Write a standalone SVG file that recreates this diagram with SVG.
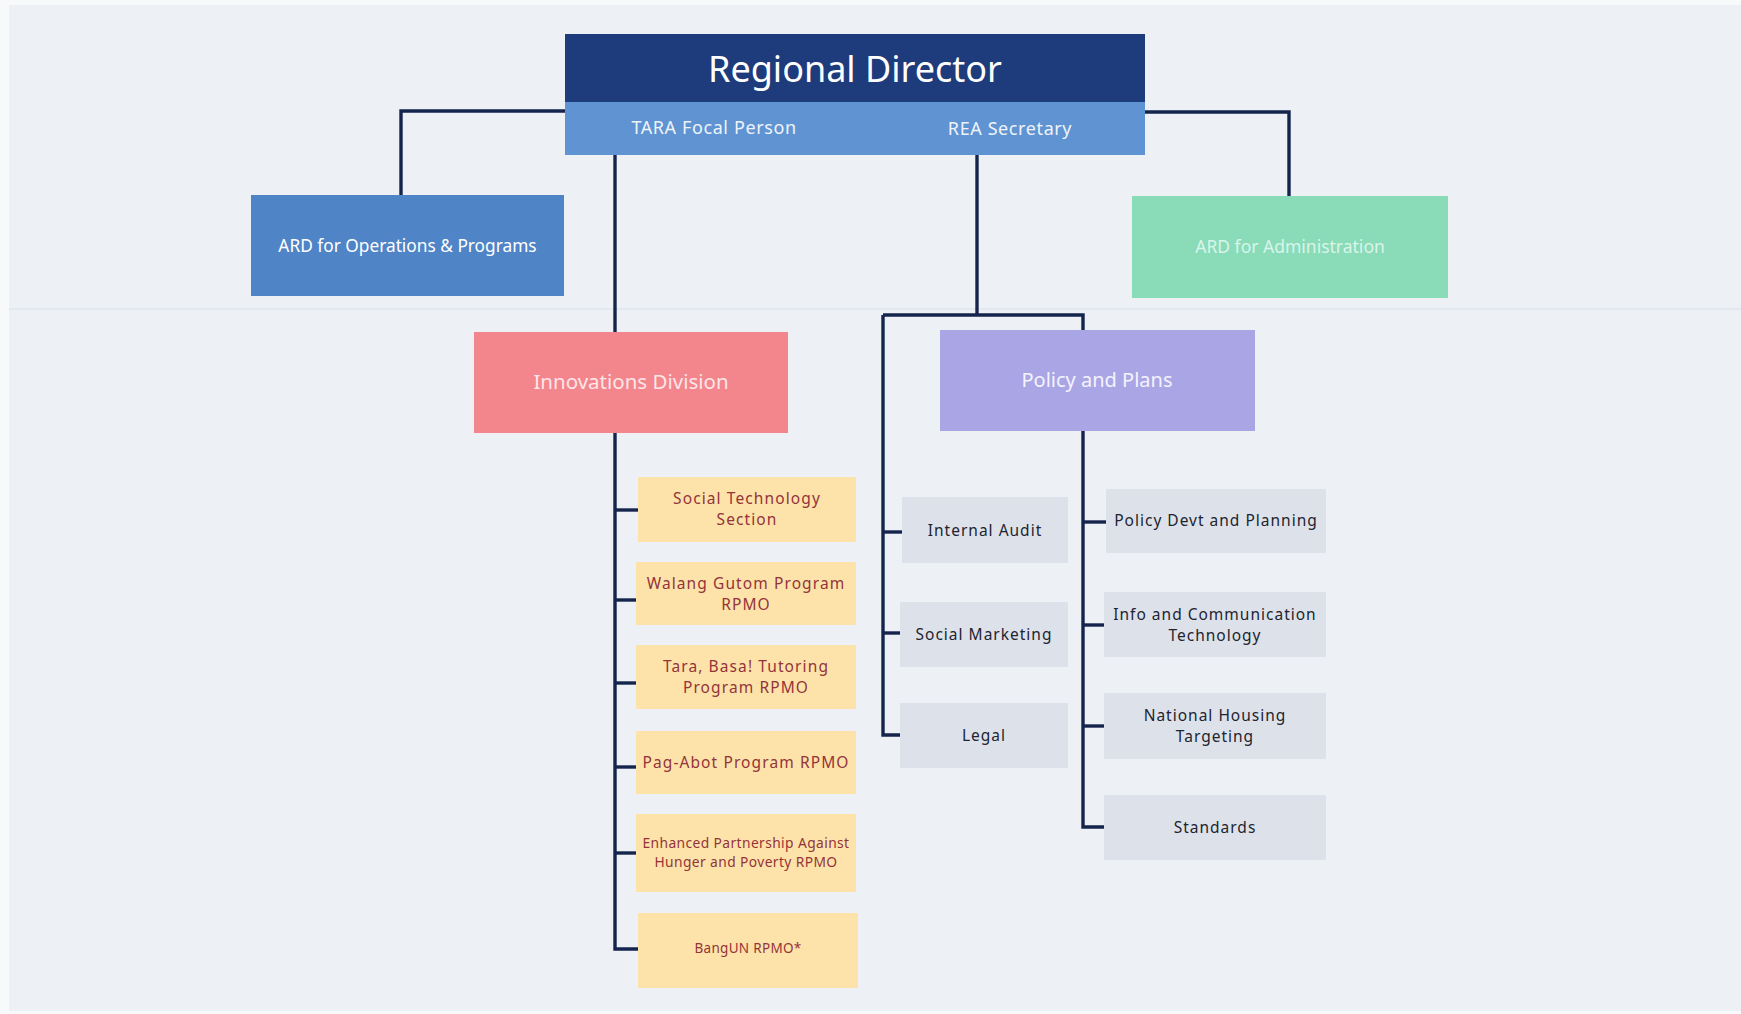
<svg xmlns="http://www.w3.org/2000/svg" width="1741" height="1014" viewBox="0 0 1741 1014">
  <style>
    .lbl { font-family: "Noto Sans", "Open Sans", "Liberation Sans", sans-serif; text-anchor: middle; dominant-baseline: central; }
    .wire { fill: none; stroke: #15244c; stroke-width: 3.4; stroke-linejoin: miter; stroke-linecap: butt; }
    .yel { fill: #fde3a9; }
    .yel-t { fill: #93343a; font-size: 15.5px; letter-spacing: 1.1px; }
    .yel-s { fill: #93343a; font-size: 13.8px; letter-spacing: 0.4px; }
    .gry { fill: #dde2ea; }
    .gry-t { fill: #1e2430; font-size: 15.5px; letter-spacing: 1px; }
    .head-t { fill: #ffffff; font-size: 17.3px; }
  </style>

  <!-- paper -->
  <rect x="0" y="0" width="1741" height="1014" fill="#f7f9fb"/>
  <rect x="9" y="5" width="1732" height="1006" fill="#edf1f6"/>
  <line x1="9" y1="309" x2="1741" y2="309" stroke="#dfe4ec" stroke-width="1.5"/>

  <!-- connectors -->
  <g id="connectors" class="wire">
    <path d="M565 111 H401 V195"/>
    <path d="M1145 112 H1289 V196"/>
    <path d="M615 155 V332"/>
    <path d="M977 155 V315"/>
    <path d="M883 315 H1083 V330"/>
    <path d="M883 315 V735 H900"/>
    <path d="M883 532 H902"/>
    <path d="M883 633 H900"/>
    <path d="M615 433 V949 H638"/>
    <path d="M615 510 H638"/>
    <path d="M615 600 H636"/>
    <path d="M615 683 H636"/>
    <path d="M615 767 H636"/>
    <path d="M615 853 H636"/>
    <path d="M1083 431 V827 H1104"/>
    <path d="M1083 522 H1106"/>
    <path d="M1083 625 H1104"/>
    <path d="M1083 726 H1104"/>
  </g>

  <!-- top: Regional Director with its two staff posts -->
  <g id="regional-director">
    <rect x="565" y="34" width="580" height="68" fill="#1e3b7c"/>
    <rect x="565" y="102" width="580" height="53" fill="#6093d1"/>
    <text class="lbl" x="855" y="68" fill="#ffffff" font-size="36">Regional Director</text>
    <text class="lbl" x="714" y="127" fill="#eef3fb" font-size="18" letter-spacing="0.6">TARA Focal Person</text>
    <text class="lbl" x="1010" y="128" fill="#eef3fb" font-size="18" letter-spacing="0.6">REA Secretary</text>
  </g>

  <g id="ard-operations">
    <rect x="251" y="195" width="313" height="101" fill="#4f84c7"/>
    <text class="lbl head-t" x="407.5" y="245">ARD for Operations &amp; Programs</text>
  </g>

  <g id="ard-administration">
    <rect x="1132" y="196" width="316" height="102" fill="#8adcb9"/>
    <text class="lbl" x="1290" y="246" fill="#d9f4ea" font-size="17.5">ARD for Administration</text>
  </g>

  <g id="innovations-division">
    <rect x="474" y="332" width="314" height="101" fill="#f3858d"/>
    <text class="lbl" x="631" y="381" fill="#fde6e8" font-size="20.5">Innovations Division</text>
  </g>

  <g id="policy-and-plans">
    <rect x="940" y="330" width="315" height="101" fill="#aaa5e5"/>
    <text class="lbl" x="1097" y="379" fill="#f4f3fd" font-size="20">Policy and Plans</text>
  </g>

  <!-- Innovations Division units -->
  <g id="social-technology-section">
    <rect class="yel" x="638" y="477" width="218" height="65"/>
    <text class="lbl yel-t" x="747" y="498">Social Technology</text>
    <text class="lbl yel-t" x="747" y="519">Section</text>
  </g>
  <g id="walang-gutom">
    <rect class="yel" x="636" y="562" width="220" height="63"/>
    <text class="lbl yel-t" x="746" y="583">Walang Gutom Program</text>
    <text class="lbl yel-t" x="746" y="604">RPMO</text>
  </g>
  <g id="tara-basa">
    <rect class="yel" x="636" y="645" width="220" height="64"/>
    <text class="lbl yel-t" x="746" y="666">Tara, Basa! Tutoring</text>
    <text class="lbl yel-t" x="746" y="687">Program RPMO</text>
  </g>
  <g id="pag-abot">
    <rect class="yel" x="636" y="731" width="220" height="63"/>
    <text class="lbl yel-t" x="746" y="762">Pag-Abot Program RPMO</text>
  </g>
  <g id="epahp">
    <rect class="yel" x="636" y="814" width="220" height="78"/>
    <text class="lbl yel-s" x="746" y="842">Enhanced Partnership Against</text>
    <text class="lbl yel-s" x="746" y="861">Hunger and Poverty RPMO</text>
  </g>
  <g id="bangun">
    <rect class="yel" x="638" y="913" width="220" height="75"/>
    <text class="lbl yel-s" x="748" y="948" style="font-size:13.5px;letter-spacing:0.3px">BangUN RPMO*</text>
  </g>

  <!-- Policy and Plans units -->
  <g id="internal-audit">
    <rect class="gry" x="902" y="497" width="166" height="66"/>
    <text class="lbl gry-t" x="985" y="530">Internal Audit</text>
  </g>
  <g id="social-marketing">
    <rect class="gry" x="900" y="602" width="168" height="65"/>
    <text class="lbl gry-t" x="984" y="634">Social Marketing</text>
  </g>
  <g id="legal">
    <rect class="gry" x="900" y="703" width="168" height="65"/>
    <text class="lbl gry-t" x="984" y="735">Legal</text>
  </g>
  <g id="policy-devt">
    <rect class="gry" x="1106" y="489" width="220" height="64"/>
    <text class="lbl gry-t" x="1216" y="520">Policy Devt and Planning</text>
  </g>
  <g id="ict">
    <rect class="gry" x="1104" y="592" width="222" height="65"/>
    <text class="lbl gry-t" x="1215" y="614">Info and Communication</text>
    <text class="lbl gry-t" x="1215" y="635">Technology</text>
  </g>
  <g id="housing-targeting">
    <rect class="gry" x="1104" y="693" width="222" height="66"/>
    <text class="lbl gry-t" x="1215" y="715">National Housing</text>
    <text class="lbl gry-t" x="1215" y="736">Targeting</text>
  </g>
  <g id="standards">
    <rect class="gry" x="1104" y="795" width="222" height="65"/>
    <text class="lbl gry-t" x="1215" y="827">Standards</text>
  </g>
</svg>
